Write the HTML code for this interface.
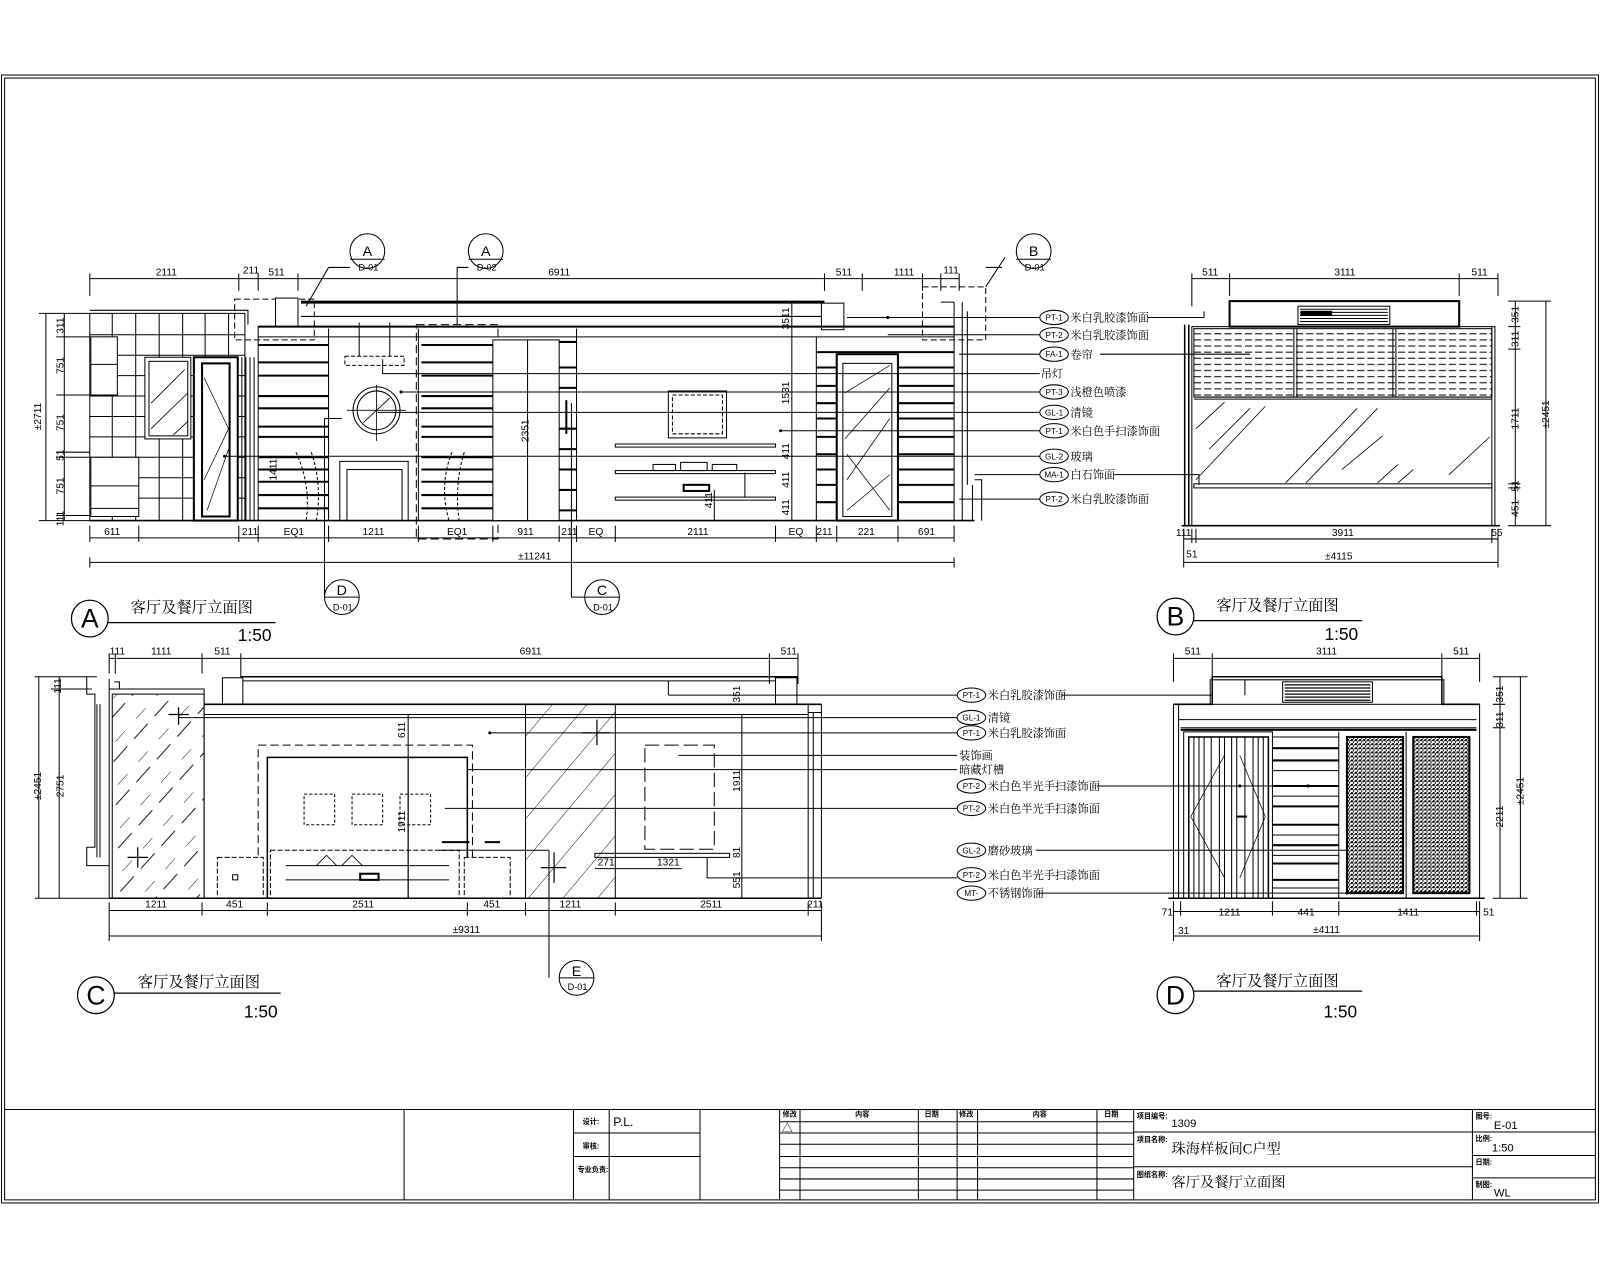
<!DOCTYPE html>
<html><head><meta charset="utf-8"><style>
html,body{margin:0;padding:0;background:#fff;}
svg{display:block;}
text{font-family:"Liberation Sans","Noto Sans CJK SC",sans-serif;fill:#000;}
.c{font-family:"Liberation Serif","Noto Serif CJK SC","Noto Sans CJK SC",serif;}
</style></head><body>
<svg width="1600" height="1280" viewBox="0 0 1568 1254" preserveAspectRatio="none" xmlns="http://www.w3.org/2000/svg">
<defs>
<pattern id="hat" width="26" height="26" patternUnits="userSpaceOnUse" patternTransform="rotate(40)">
<line x1="0" y1="0" x2="0" y2="26" stroke="#000" stroke-width="0.9"/>
</pattern>
<pattern id="hat2" width="30" height="30" patternUnits="userSpaceOnUse" patternTransform="rotate(42)">
<line x1="0" y1="0" x2="0" y2="14" stroke="#000" stroke-width="0.9"/>
<line x1="12" y1="10" x2="12" y2="30" stroke="#000" stroke-width="0.9"/>
</pattern>
<pattern id="tex" width="4" height="4" patternUnits="userSpaceOnUse">
<rect width="4" height="4" fill="#fff"/><rect x="0" y="0" width="2" height="2" fill="#000"/><rect x="2" y="2" width="1" height="2" fill="#000"/><rect x="3" y="1" width="1" height="1" fill="#000"/>
</pattern>
<pattern id="blind" width="10" height="6" patternUnits="userSpaceOnUse">
<line x1="0" y1="3" x2="7" y2="3" stroke="#000" stroke-width="1"/>
</pattern>
</defs>
<g fill="none" stroke="#000" stroke-width="1">
<!-- border -->
<rect x="1.5" y="73.5" width="1565" height="1105"/>
<rect x="4.5" y="76.5" width="1559" height="1099"/>
<!-- title block -->
<line x1="4" y1="1087" x2="1564" y2="1087"/>
<line x1="396" y1="1087" x2="396" y2="1176"/>
<line x1="562" y1="1087" x2="562" y2="1176"/>
<line x1="597" y1="1087" x2="597" y2="1176"/>
<line x1="686" y1="1087" x2="686" y2="1176"/>
<line x1="562" y1="1110" x2="686" y2="1110"/>
<line x1="562" y1="1133" x2="686" y2="1133"/>
<line x1="764" y1="1087" x2="764" y2="1176"/>
<line x1="784" y1="1087" x2="784" y2="1176"/>
<line x1="900" y1="1087" x2="900" y2="1176"/>
<line x1="938" y1="1087" x2="938" y2="1176"/>
<line x1="958" y1="1087" x2="958" y2="1176"/>
<line x1="1075" y1="1087" x2="1075" y2="1176"/>
<line x1="1111" y1="1087" x2="1111" y2="1176"/>
<path d="M764 1099H1111M764 1110H1111M764 1121H1111M764 1133H1111M764 1144H1111M764 1155H1111M764 1166H1111"/>
<path d="M1111 1109H1443M1111 1143H1443"/>
<line x1="1443" y1="1087" x2="1443" y2="1176"/>
<path d="M1443 1109H1564M1443 1132H1564M1443 1154H1564"/>
</g>
<g font-size="7" font-weight="bold">
<text x="571" y="1101">设计:</text><text x="571" y="1125">审核:</text><text x="566" y="1148">专业负责:</text>
<text x="767" y="1094">修改</text><text x="838" y="1094">内容</text><text x="906" y="1094">日期</text><text x="940" y="1094">修改</text><text x="1012" y="1094">内容</text><text x="1082" y="1094">日期</text>
<text x="1114" y="1096">项目编号:</text><text x="1114" y="1119">项目名称:</text><text x="1114" y="1153">图纸名称:</text>
<text x="1446" y="1096">图号:</text><text x="1446" y="1118">比例:</text><text x="1446" y="1141">日期:</text><text x="1446" y="1163">制图:</text>
</g>
<text x="601" y="1103" font-size="12">P.L.</text>
<text x="766" y="1109" font-size="11">△</text>
<text x="1148" y="1104" font-size="11">1309</text>
<text x="1148" y="1130" font-size="14" class="c">珠海样板间C户型</text>
<text x="1148" y="1163" font-size="14" class="c">客厅及餐厅立面图</text>
<text x="1464" y="1106" font-size="11">E-01</text>
<text x="1462" y="1128" font-size="11">1:50</text>
<text x="1464" y="1172" font-size="11">WL</text>

<!-- ================= ELEVATION A ================= -->
<g fill="none" stroke="#000" stroke-width="1">
<!-- top dimension -->
<line x1="88" y1="273" x2="940" y2="273"/>
<path d="M88 268V290M234 268V285M253 268V285M292 268V285M808 268V285M845 268V285M904 268V285M922 268V285M940 268V285"/>
<!-- kitchen tiles -->
<rect x="88" y="307" width="152" height="203"/>
<path d="M88 304H243V318"/>
<path d="M88 328H240M88 348H240M88 368H240M88 388H240M88 408H240M88 428H240M88 448H240M88 468H240M88 488H240"/>
<path d="M110 307V510M133 307V510M156 307V510M179 307V510M201 307V510M224 307V510"/>
<rect x="89" y="330" width="26" height="57" fill="#fff"/><line x1="89" y1="357" x2="115" y2="357"/>
<rect x="89" y="448" width="47" height="58" fill="#fff"/><line x1="89" y1="476" x2="136" y2="476"/><line x1="89" y1="498" x2="136" y2="498"/>
<rect x="142" y="350" width="45" height="80" fill="#fff"/><rect x="146" y="354" width="38" height="73"/>
<path d="M148 395L181 362M148 420L184 385M170 426L184 413" stroke-width="0.8"/>
<rect x="190" y="350" width="43" height="160" fill="#fff" stroke-width="2"/>
<rect x="198" y="356" width="27" height="150" stroke-width="2"/>
<path d="M200 370L224 420L200 470M203 500L224 440" stroke-width="0.7"/>
<path d="M237 350V510M241 350V510M245 350V510M249 350V510"/>
<!-- ceiling -->
<rect x="230" y="293" width="78" height="40" stroke-dasharray="6,3"/>
<line x1="295" y1="296" x2="808" y2="296" stroke-width="3"/>
<line x1="295" y1="310" x2="808" y2="310"/>
<rect x="270" y="292" width="22" height="28" fill="#fff"/>
<rect x="805" y="297" width="22" height="26" fill="#fff"/>
<line x1="253" y1="320" x2="935" y2="320" stroke-width="2"/>
<line x1="253" y1="330" x2="935" y2="330"/>
<!-- main wall -->
<rect x="253" y="320" width="682" height="190"/>
<line x1="88" y1="510" x2="955" y2="510" stroke-width="1.5"/>
<!-- left striped panel -->
<path d="M253 338H322M253 355H322M253 368H322M253 388H322M253 400H322M253 418H322M253 428H322M253 448H322M253 460H322M253 472H322M253 485H322M253 498H322" stroke-width="2"/>
<line x1="322" y1="322" x2="322" y2="510"/>
<!-- center panel -->
<line x1="410" y1="322" x2="410" y2="510"/>
<rect x="338" y="349" width="58" height="9" stroke-dasharray="4,2"/>
<path d="M352 316V349M382 316V349"/>
<circle cx="369" cy="402" r="23"/><circle cx="369" cy="402" r="19"/>
<path d="M369 377V432M340 402H398M356 414L382 390" stroke-width="0.8"/>
<rect x="333" y="452" width="67" height="58"/><rect x="340" y="460" width="54" height="50"/>
<path d="M290 443Q305 475 300 510M305 443Q316 475 310 510" stroke-dasharray="3,2"/>
<path d="M443 443Q430 475 440 510M455 443Q445 475 450 510" stroke-dasharray="3,2"/>
<!-- second striped -->
<rect x="408" y="318" width="80" height="210" stroke-dasharray="8,4"/>
<path d="M413 338H483M413 355H483M413 368H483M413 388H483M413 400H483M413 418H483M413 428H483M413 448H483M413 460H483M413 472H483M413 485H483M413 498H483" stroke-width="2"/>
<rect x="483" y="333" width="65" height="177" fill="#fff"/>
<line x1="517" y1="333" x2="517" y2="510"/>
<path d="M548 335H565M548 360H565M548 380H565M548 420H565M548 440H565M548 460H565M548 480H565M548 500H565" stroke-width="2"/>
<line x1="565" y1="322" x2="565" y2="510"/>
<line x1="555" y1="392" x2="555" y2="425" stroke-width="2"/>
<!-- TV wall -->
<rect x="655" y="383" width="57" height="46"/><rect x="659" y="387" width="49" height="38" stroke-dasharray="4,2"/>
<rect x="603" y="435" width="157" height="3"/>
<rect x="603" y="461" width="157" height="3"/>
<rect x="603" y="487" width="157" height="3"/>
<rect x="640" y="455" width="22" height="6"/><rect x="667" y="453" width="26" height="8"/><rect x="698" y="455" width="24" height="6"/>
<rect x="670" y="475" width="25" height="6" stroke-width="2"/>
<line x1="730" y1="463" x2="730" y2="487"/>
<line x1="700" y1="480" x2="700" y2="510"/>
<!-- right dims inside -->
<line x1="776" y1="296" x2="776" y2="510"/>
<line x1="770" y1="296" x2="782" y2="296"/>
<!-- right striped with door -->
<line x1="800" y1="330" x2="800" y2="510"/>
<path d="M800 345H935M800 360H820M880 360H935M800 378H820M880 378H935M800 395H820M880 395H935M800 410H820M880 410H935M800 428H820M880 428H935M800 445H820M880 445H935M800 460H820M880 460H935M800 475H820M880 475H935M800 492H820M880 492H935" stroke-width="2"/>
<rect x="820" y="347" width="60" height="163" fill="#fff" stroke-width="2"/>
<rect x="826" y="356" width="48" height="150"/>
<path d="M828 385L872 358M828 430L872 380M830 470L872 410M830 500L872 465M830 445L872 500" stroke-width="0.7"/>
<!-- right end -->
<path d="M935 296V330M922 296H935M943 296V510M948 305V475M953 475V510M955 470H962V510"/>
<rect x="904" y="281" width="62" height="52" stroke-dasharray="6,3"/>
<path d="M966 281L985 252"/>
<!-- bottom dims -->
<line x1="88" y1="527" x2="935" y2="527"/>
<path d="M88 515V531M136 515V531M234 515V531M253 515V531M322 515V531M410 515V531M483 515V531M548 515V531M565 515V531M603 515V531M760 515V531M800 515V531M820 515V531M880 515V531M935 515V531"/>
<line x1="88" y1="551" x2="935" y2="551"/>
<path d="M88 546V556M935 546V556"/>
<!-- left dims -->
<line x1="45" y1="307" x2="45" y2="510"/>
<line x1="63" y1="307" x2="63" y2="510"/>
<path d="M38 307H88M55 330H88M55 387H88M55 443H88M55 448H88M55 505H88M38 510H88"/>
<!-- callout leaders -->
<path d="M322 262H343M322 262L300 300"/>
<path d="M459 262H448V318"/>
<path d="M982 262H966"/>
<path d="M318 585V410M335 410H318"/>
<path d="M573 585H560V395"/>
<!-- label leaders A -->
<path d="M830 311H1019M870 328H1019M940 347H1019M375 352V366H1019M393 384H1019M370 404H1019M765 422H1019M220 447H1019M955 465H1019M940 489H1019"/>
<path d="M1125 311H1180M1180 311V305"/>
<path d="M1078 347H1225"/>
<path d="M1092 465H1175V475"/>
</g>
<!-- label ovals A -->
<g fill="#fff" stroke="#000" stroke-width="1">
<ellipse cx="1033" cy="311" rx="14" ry="7"/><ellipse cx="1033" cy="328" rx="14" ry="7"/><ellipse cx="1033" cy="347" rx="14" ry="7"/>
<ellipse cx="1033" cy="384" rx="14" ry="7"/><ellipse cx="1033" cy="404" rx="14" ry="7"/><ellipse cx="1033" cy="422" rx="14" ry="7"/>
<ellipse cx="1033" cy="447" rx="14" ry="7"/><ellipse cx="1033" cy="465" rx="14" ry="7"/><ellipse cx="1033" cy="489" rx="14" ry="7"/>
</g>
<g font-size="8" text-anchor="middle">
<text x="1033" y="314">PT-1</text><text x="1033" y="331">PT-2</text><text x="1033" y="350">FA-1</text><text x="1033" y="387">PT-3</text><text x="1033" y="407">GL-1</text><text x="1033" y="425">PT-1</text><text x="1033" y="450">GL-2</text><text x="1033" y="468">MA-1</text><text x="1033" y="492">PT-2</text>
</g>
<g font-size="11" class="c">
<text x="1049" y="315" class="c">米白乳胶漆饰面</text><text x="1049" y="332" class="c">米白乳胶漆饰面</text><text x="1049" y="351" class="c">卷帘</text>
<text x="1020" y="370" class="c">吊灯</text><text x="1049" y="388" class="c">浅橙色喷漆</text><text x="1049" y="408" class="c">清镜</text>
<text x="1049" y="426" class="c">米白色手扫漆饰面</text><text x="1049" y="451" class="c">玻璃</text><text x="1049" y="469" class="c">白石饰面</text><text x="1049" y="493" class="c">米白乳胶漆饰面</text>
</g>
<!-- dim texts A -->
<g font-size="10" text-anchor="middle">
<text x="163" y="270">2111</text><text x="246" y="268">211</text><text x="271" y="270">511</text><text x="548" y="270">6911</text><text x="827" y="270">511</text><text x="886" y="270">1111</text><text x="932" y="268">111</text>
<text x="110" y="524">611</text><text x="245" y="524">211</text><text x="288" y="524">EQ1</text><text x="366" y="524">1211</text><text x="448" y="524">EQ1</text><text x="515" y="524">911</text><text x="558" y="524">211</text><text x="584" y="524">EQ</text><text x="684" y="524">2111</text><text x="780" y="524">EQ</text><text x="808" y="524">211</text><text x="849" y="524">221</text><text x="908" y="524">691</text>
<text x="524" y="548">±11241</text>
<text transform="translate(62,319) rotate(-90)">311</text><text transform="translate(62,358) rotate(-90)">751</text><text transform="translate(62,414) rotate(-90)">751</text><text transform="translate(62,446) rotate(-90)">51</text><text transform="translate(62,476) rotate(-90)">751</text><text transform="translate(62,508) rotate(-90)">111</text>
<text transform="translate(40,408) rotate(-90)">±2711</text>
<text transform="translate(773,312) rotate(-90)">3511</text><text transform="translate(773,385) rotate(-90)">1531</text><text transform="translate(518,422) rotate(-90)">2351</text><text transform="translate(271,460) rotate(-90)">1411</text><text transform="translate(773,442) rotate(-90)">411</text><text transform="translate(773,470) rotate(-90)">411</text><text transform="translate(773,497) rotate(-90)">411</text><text transform="translate(698,490) rotate(-90)">411</text>
</g>
<!-- bubbles -->
<g fill="#fff" stroke="#000" stroke-width="1">
<circle cx="360" cy="246" r="17"/><circle cx="476" cy="246" r="17"/><circle cx="1013" cy="246" r="17"/>
<circle cx="335" cy="585" r="17"/><circle cx="590" cy="585" r="17"/><circle cx="565" cy="958" r="17"/>
<path d="M343 254H377M459 254H493M996 254H1030M318 585H352M573 585H607M548 958H582"/>
</g>
<g font-size="14" text-anchor="middle">
<text x="360" y="251">A</text><text x="476" y="251">A</text><text x="1013" y="251">B</text><text x="335" y="583">D</text><text x="590" y="583">C</text><text x="565" y="956">E</text>
</g>
<g font-size="9" text-anchor="middle">
<text x="361" y="265">D-01</text><text x="477" y="265">D-02</text><text x="1014" y="265">D-01</text><text x="336" y="598">D-01</text><text x="591" y="598">D-01</text><text x="566" y="970">D-01</text>
</g>
<!-- titles -->
<g fill="none" stroke="#000" stroke-width="1.2">
<circle cx="88" cy="606" r="18"/><line x1="106" y1="610" x2="270" y2="610"/>
<circle cx="1152" cy="604" r="18"/><line x1="1170" y1="608" x2="1335" y2="608"/>
<circle cx="94" cy="975" r="18"/><line x1="112" y1="973" x2="275" y2="973"/>
<circle cx="1152" cy="975" r="18"/><line x1="1170" y1="971" x2="1335" y2="971"/>
</g>
<g font-size="26" text-anchor="middle">
<text x="88" y="615">A</text><text x="1152" y="613">B</text><text x="94" y="984">C</text><text x="1152" y="984">D</text>
</g>
<g font-size="15" class="c">
<text x="128" y="600" class="c">客厅及餐厅立面图</text><text x="1192" y="598" class="c">客厅及餐厅立面图</text>
<text x="135" y="967" class="c">客厅及餐厅立面图</text><text x="1192" y="966" class="c">客厅及餐厅立面图</text>
</g>
<g font-size="17">
<text x="233" y="628">1:50</text><text x="1298" y="627">1:50</text><text x="239" y="997">1:50</text><text x="1297" y="997">1:50</text>
</g>

<!-- ================= ELEVATION B ================= -->
<g fill="none" stroke="#000" stroke-width="1">
<line x1="1168" y1="273" x2="1468" y2="273"/>
<path d="M1168 268V300M1205 268V290M1430 268V290M1468 268V290"/>
<rect x="1205" y="295" width="225" height="25" stroke-width="2"/>
<rect x="1272" y="300" width="90" height="18"/>
<path d="M1274 303H1360M1274 306H1360M1274 309H1360M1274 312H1360M1274 315H1360"/>
<rect x="1275" y="305" width="30" height="4" fill="#000"/>
<rect x="1168" y="320" width="297" height="195"/>
<path d="M1161 318V515M1165 318V515" stroke-width="1.5"/>
<rect x="1170" y="322" width="292" height="67" fill="url(#blind)"/>
<path d="M1170 389H1462M1170 391H1462M1268 322V389M1271 322V389M1365 322V389M1368 322V389"/>
<path d="M1172 420L1200 394M1185 440L1225 400M1172 470L1240 398M1260 473L1330 400M1280 473L1350 400M1315 460L1355 427M1350 473L1370 455M1370 473L1385 460M1420 465L1460 428" stroke-width="0.8"/>
<rect x="1170" y="474" width="292" height="4"/>
<line x1="1462" y1="320" x2="1462" y2="515"/>
<line x1="1158" y1="515" x2="1470" y2="515" stroke-width="1.5"/>
<line x1="1485" y1="295" x2="1485" y2="515"/><line x1="1515" y1="295" x2="1515" y2="515"/>
<path d="M1478 295H1520M1478 320H1490M1478 342H1490M1478 474H1490M1478 478H1490M1478 515H1520"/>
<line x1="1160" y1="528" x2="1468" y2="528"/><line x1="1160" y1="551" x2="1468" y2="551"/>
<path d="M1160 518V556M1168 518V532M1172 518V532M1462 518V532M1468 518V556"/>
</g>
<g font-size="10" text-anchor="middle">
<text x="1186" y="270">511</text><text x="1318" y="270">3111</text><text x="1450" y="270">511</text>
<text x="1316" y="525">3911</text><text x="1160" y="525">111</text><text x="1467" y="525">55</text><text x="1168" y="546">51</text><text x="1312" y="548">±4115</text>
<text transform="translate(1488,308) rotate(-90)">351</text><text transform="translate(1488,332) rotate(-90)">311</text><text transform="translate(1488,410) rotate(-90)">1711</text><text transform="translate(1488,476) rotate(-90)">51</text><text transform="translate(1488,498) rotate(-90)">451</text><text transform="translate(1518,406) rotate(-90)">±2451</text>
</g>

<!-- ================= ELEVATION C ================= -->
<g fill="none" stroke="#000" stroke-width="1">
<line x1="107" y1="645" x2="782" y2="645"/>
<path d="M107 640V660M113 640V660M198 640V660M236 640V670M754 640V670M782 640V670"/>
<line x1="236" y1="663" x2="782" y2="663" stroke-width="1.5"/>
<line x1="236" y1="667" x2="782" y2="667"/>
<rect x="218" y="664" width="20" height="26" fill="#fff"/><rect x="760" y="664" width="21" height="26" fill="#fff"/>
<path d="M655 667V681M655 681H938"/>
<!-- window left -->
<path d="M85 663V680H93V830H85V848H107M95 690V840M98 690V840"/>
<path d="M107 665V880M112 668H117V675"/>
<path d="M107 675H200V690"/>
<rect x="110" y="680" width="90" height="200" fill="url(#hat2)"/>
<line x1="200" y1="690" x2="200" y2="880"/>
<line x1="200" y1="690" x2="805" y2="690" stroke-width="1.5"/>
<line x1="200" y1="700" x2="792" y2="700"/>
<path d="M165 700H185M175 693V710M125 840H145M135 830V850" stroke-width="1.2"/>
<!-- central picture wall -->
<rect x="253" y="730" width="210" height="150" stroke-dasharray="8,4"/>
<rect x="262" y="742" width="196" height="138" stroke-width="1.5"/>
<rect x="298" y="778" width="30" height="30" stroke-dasharray="3,2"/><rect x="345" y="778" width="30" height="30" stroke-dasharray="3,2"/><rect x="392" y="778" width="30" height="30" stroke-dasharray="3,2"/>
<rect x="265" y="833" width="185" height="47" stroke-dasharray="5,2" fill="#fff"/>
<path d="M280 848H440M280 862H440"/>
<path d="M310 848L320 838L330 848M335 848L345 838L355 848" stroke-width="0.8"/>
<rect x="353" y="856" width="18" height="6" stroke-width="2"/>
<rect x="213" y="840" width="45" height="40" stroke-dasharray="5,2" fill="#fff"/>
<rect x="228" y="857" width="5" height="5"/>
<rect x="455" y="840" width="45" height="40" stroke-dasharray="5,2" fill="#fff"/>
<path d="M433 825H460M475 825H490" stroke-width="2"/>
<line x1="400" y1="740" x2="400" y2="880"/>
<!-- hatched middle -->
<rect x="515" y="690" width="88" height="190" fill="url(#hat)"/>
<path d="M570 718H598M585 705V730M530 850H555M543 835V865" stroke-width="1.2"/>
<line x1="538" y1="833" x2="538" y2="958"/>
<line x1="430" y1="833" x2="538" y2="833"/>
<!-- right part -->
<rect x="632" y="730" width="68" height="102" stroke-dasharray="14,5"/>
<rect x="583" y="836" width="132" height="4"/>
<path d="M583 851H668M693 840V860H938"/>
<line x1="727" y1="700" x2="727" y2="880"/>
<path d="M792 690V880M797 698V880M792 698H805M805 690V880"/>
<line x1="107" y1="880" x2="805" y2="880" stroke-width="1.5"/>
<line x1="400" y1="700" x2="400" y2="880"/>
<!-- C label leaders -->
<path d="M175 703H938M480 718H938M665 740H938M458 754H938M436 792H938"/>
<!-- C dims -->
<line x1="107" y1="892" x2="805" y2="892"/><line x1="107" y1="917" x2="805" y2="917"/>
<path d="M107 884V922M198 884V897M262 884V897M458 884V897M515 884V897M603 884V897M792 884V897M805 884V922"/>
<line x1="38" y1="663" x2="38" y2="880"/><line x1="58" y1="663" x2="58" y2="880"/>
<path d="M34 663H95M50 675H90M34 880H107"/>
</g>
<g font-size="10" text-anchor="middle">
<text x="115" y="641">111</text><text x="158" y="641">1111</text><text x="218" y="641">511</text><text x="520" y="641">6911</text><text x="773" y="641">511</text>
<text x="153" y="889">1211</text><text x="230" y="889">451</text><text x="356" y="889">2511</text><text x="482" y="889">451</text><text x="559" y="889">1211</text><text x="697" y="889">2511</text><text x="799" y="889">211</text>
<text x="457" y="914">±9311</text>
<text transform="translate(40,770) rotate(-90)">±2451</text><text transform="translate(62,770) rotate(-90)">2751</text><text transform="translate(60,672) rotate(-90)">111</text>
<text transform="translate(397,715) rotate(-90)">611</text><text transform="translate(397,805) rotate(-90)">1911</text><text transform="translate(725,765) rotate(-90)">1911</text><text transform="translate(725,835) rotate(-90)">81</text><text transform="translate(725,862) rotate(-90)">551</text><text transform="translate(725,680) rotate(-90)">351</text>
<text x="594" y="848">271</text><text x="655" y="848">1321</text>
</g>
<!-- C/D labels -->
<g fill="#fff" stroke="#000" stroke-width="1">
<ellipse cx="952" cy="681" rx="14" ry="7"/><ellipse cx="952" cy="703" rx="14" ry="7"/><ellipse cx="952" cy="718" rx="14" ry="7"/>
<ellipse cx="952" cy="770" rx="14" ry="7"/><ellipse cx="952" cy="792" rx="14" ry="7"/><ellipse cx="952" cy="833" rx="14" ry="7"/>
<ellipse cx="952" cy="857" rx="14" ry="7"/><ellipse cx="952" cy="875" rx="14" ry="7"/>
</g>
<g font-size="8" text-anchor="middle">
<text x="952" y="684">PT-1</text><text x="952" y="706">GL-1</text><text x="952" y="721">PT-1</text><text x="952" y="773">PT-2</text><text x="952" y="795">PT-2</text><text x="952" y="836">GL-2</text><text x="952" y="860">PT-2</text><text x="952" y="878">MT-</text>
</g>
<g font-size="11">
<text x="968" y="685" class="c">米白乳胶漆饰面</text><text x="968" y="707" class="c">清镜</text><text x="968" y="722" class="c">米白乳胶漆饰面</text>
<text x="940" y="744" class="c">装饰画</text><text x="940" y="758" class="c">暗藏灯槽</text>
<text x="968" y="774" class="c">米白色半光手扫漆饰面</text><text x="968" y="796" class="c">米白色半光手扫漆饰面</text>
<text x="968" y="837" class="c">磨砂玻璃</text><text x="968" y="861" class="c">米白色半光手扫漆饰面</text><text x="968" y="879" class="c">不锈钢饰面</text>
</g>

<!-- ================= ELEVATION D ================= -->
<g fill="none" stroke="#000" stroke-width="1">
<line x1="1150" y1="645" x2="1450" y2="645"/>
<path d="M1150 640V668M1188 640V668M1413 640V668M1450 640V668"/>
<path d="M1150 690H1188V663H1413V690H1450" stroke-width="1.5"/>
<path d="M1153 690H1186V666H1415V690"/>
<rect x="1257" y="668" width="88" height="20"/>
<path d="M1259 671H1343M1259 674H1343M1259 677H1343M1259 680H1343M1259 683H1343M1259 686H1343" stroke-width="1.2"/>
<path d="M1040 681H1188M1220 666V681"/>
<rect x="1150" y="690" width="300" height="190"/>
<path d="M1155 690V880M1155 705H1447M1157 713H1447" />
<line x1="1157" y1="715" x2="1447" y2="715" stroke-width="2"/>
<rect x="1160" y="717" width="87" height="163"/>
<rect x="1165" y="722" width="78" height="158" stroke-width="1.5"/>
<path d="M1170 722V880M1175 722V880M1180 722V880M1187 722V880M1195 722V880M1200 722V880M1207 722V880M1212 722V880M1220 722V880M1228 722V880M1233 722V880M1238 722V880"/>
<path d="M1167 800L1200 740M1167 800L1200 860M1215 740L1240 800L1215 860" stroke-width="0.7"/>
<line x1="1212" y1="800" x2="1222" y2="800" stroke-width="2"/>
<path d="M1247 733H1312M1247 745H1312M1247 770H1312M1247 790H1312M1247 808H1312M1247 828H1312M1247 846H1312M1247 862H1312" stroke-width="2"/>
<path d="M1247 722H1312M1247 755H1312M1247 780H1312M1247 818H1312M1247 838H1312M1247 870H1312"/>
<line x1="1312" y1="717" x2="1312" y2="880"/><line x1="1378" y1="717" x2="1378" y2="880"/>
<rect x="1320" y="722" width="55" height="153" fill="url(#tex)" stroke-width="2"/>
<rect x="1385" y="722" width="55" height="153" fill="url(#tex)" stroke-width="2"/>
<line x1="1145" y1="880" x2="1455" y2="880" stroke-width="1.5"/>
<path d="M1075 770H1310M1015 833H1320M1017 875H1320"/>
<line x1="1470" y1="663" x2="1470" y2="880"/><line x1="1490" y1="663" x2="1490" y2="880"/>
<path d="M1463 663H1497M1463 690H1475M1463 713H1475M1463 880H1497"/>
<line x1="1150" y1="893" x2="1450" y2="893"/><line x1="1150" y1="917" x2="1450" y2="917"/>
<path d="M1150 883V922M1157 883V897M1247 883V897M1312 883V897M1447 883V897M1450 883V922"/>
</g>
<g font-size="10" text-anchor="middle">
<text x="1169" y="641">511</text><text x="1300" y="641">3111</text><text x="1432" y="641">511</text>
<text x="1144" y="897">71</text><text x="1205" y="897">1211</text><text x="1280" y="897">441</text><text x="1380" y="897">1411</text><text x="1459" y="897">51</text>
<text x="1160" y="915">31</text><text x="1300" y="914">±4111</text>
<text transform="translate(1473,680) rotate(-90)">351</text><text transform="translate(1473,705) rotate(-90)">311</text><text transform="translate(1473,800) rotate(-90)">2211</text><text transform="translate(1493,775) rotate(-90)">±2451</text>
</g>
<g fill="#000">
<circle cx="870" cy="311" r="1.5"/><circle cx="393" cy="384" r="1.5"/><circle cx="765" cy="422" r="1.5"/><circle cx="220" cy="447" r="1.5"/><circle cx="480" cy="718" r="1.5"/><circle cx="1215" cy="770" r="1.5"/><circle cx="1282" cy="770" r="1.5"/><circle cx="1320" cy="875" r="1.5"/>
</g>
</svg>
</body></html>
